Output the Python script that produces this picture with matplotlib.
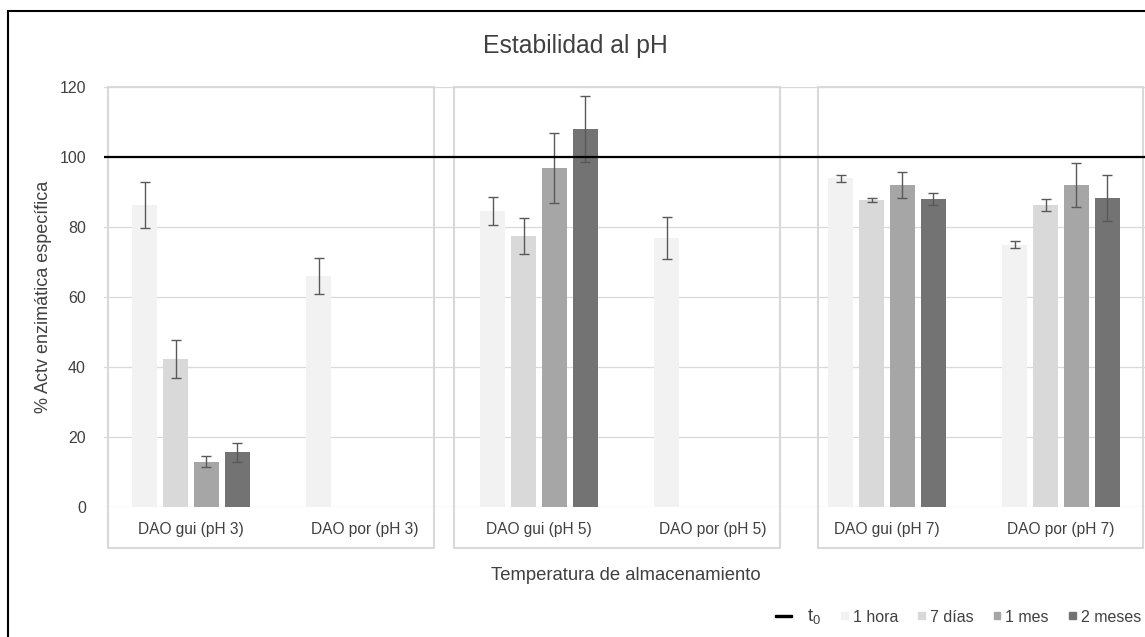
import numpy as np
import matplotlib
matplotlib.use("Agg")
import matplotlib.pyplot as plt
from matplotlib.patches import Rectangle, Patch
from matplotlib.legend_handler import HandlerPatch

plt.rcParams['font.family'] = ['Liberation Sans', 'DejaVu Sans']

# actividad residual (%) y desviación por muestra y tiempo de almacenamiento
muestras = ["DAO gui (pH 3)", "DAO por (pH 3)", "DAO gui (pH 5)",
            "DAO por (pH 5)", "DAO gui (pH 7)", "DAO por (pH 7)"]
tiempos = ["1 hora", "7 días", "1 mes", "2 meses"]
nan = np.nan
act_1h = [86.3, 66.0, 84.6, 77.0, 94.0, 75.0]
err_1h = [6.5, 5.1, 4.1, 6.0, 1.0, 1.0]
act_7d = [42.3, nan, 77.5, nan, 87.7, 86.3]
err_7d = [5.4, nan, 5.1, nan, 0.6, 1.6]
act_1m = [13.0, nan, 96.8, nan, 92.0, 92.0]
err_1m = [1.7, nan, 10.0, nan, 3.7, 6.2]
act_2m = [15.6, nan, 108.0, nan, 88.0, 88.4]
err_2m = [2.7, nan, 9.5, nan, 1.8, 6.6]
t0 = 100

actividad = [act_1h, act_7d, act_1m, act_2m]
errores = [err_1h, err_7d, err_1m, err_2m]
colores = ["#f2f2f2", "#d9d9d9", "#a6a6a6", "#737373"]

W, H = 1145, 637
fig = plt.figure(figsize=(W / 100, H / 100), dpi=100)
ax = fig.add_axes([104 / W, 130 / H, 1044 / W, 420 / H])

x = np.arange(len(muestras))
paso = 0.178
ancho = 0.144
for i, (vals, errs, c) in enumerate(zip(actividad, errores, colores)):
    vals = np.array(vals, dtype=float)
    errs = np.array(errs, dtype=float)
    ok = ~np.isnan(vals)
    xi = x[ok] + (i - 1.5) * paso
    ax.bar(xi, vals[ok], width=ancho, color=c, zorder=2)
    ax.errorbar(xi, vals[ok], yerr=errs[ok], fmt='none', ecolor='#595959',
                elinewidth=1, capsize=3.5, capthick=1, zorder=3)

ax.axhline(t0, color='black', lw=1.6, zorder=4)

# recuadros de cada pH
cajas = [(-0.477, 1.397), (1.511, 3.385), (3.603, 5.471)]
for x0, x1 in cajas:
    ax.add_patch(Rectangle((x0, -11.7), x1 - x0, 131.6, fill=False,
                           edgecolor='#d9d9d9', lw=1.5, clip_on=False, zorder=1))

ax.set_xlim(-0.5, 5.5)
ax.set_ylim(0, 120)
ax.set_yticks(np.arange(0, 121, 20))
ax.set_xticks(x)
ax.set_xticklabels(muestras, fontsize=11.2, color='#404040')
ax.tick_params(axis='x', length=0, pad=11)
ax.tick_params(axis='y', length=0, pad=13, labelsize=11.5, labelcolor='#404040')
for s in ax.spines.values():
    s.set_visible(False)
ax.grid(axis='y', color='#d9d9d9', lw=0.9, zorder=0)
ax.set_axisbelow(True)

ax.set_ylabel("% Actv enzimática específica", fontsize=13, color='#404040')
ax.yaxis.set_label_coords(-0.0575, 0.5)
ax.yaxis.label.set_va('center')
ax.set_xlabel("Temperatura de almacenamiento", fontsize=13.3, color='#404040')
ax.xaxis.set_label_coords(0.5, -0.162)
ax.xaxis.label.set_va('center')

fig.text(575.5 / W, 1 - 46 / H, "Estabilidad al pH", fontsize=17.8,
         color='#404040', ha='center', va='center')

# marco exterior
fig.patches.append(Rectangle((8 / W, -0.1), 1.2, 1.1 - 11 / H, fill=False,
                             edgecolor='black', lw=1.5, transform=fig.transFigure))


def cuadro(legend, orig_handle, xdescent, ydescent, width, height, fontsize):
    s = 5
    return Rectangle((width - s - xdescent, -ydescent + (height - s) / 2), s, s)


def raya(legend, orig_handle, xdescent, ydescent, width, height, fontsize):
    return Rectangle((-xdescent, -ydescent + height / 2 - 0.9), 12, 1.8)


h_t0 = Patch(color='black')
h_bar = [Patch(color=c) for c in colores]
hmap = {h_t0: HandlerPatch(patch_func=raya)}
for hb in h_bar:
    hmap[hb] = HandlerPatch(patch_func=cuadro)
leg = fig.legend([h_t0] + h_bar, [r"$\mathregular{t_0}$"] + tiempos,
                 handler_map=hmap, loc='center left',
                 bbox_to_anchor=(775 / W, 1 - 617 / H), ncol=5, frameon=False,
                 fontsize=11.5, handlelength=1.69, handletextpad=0.3,
                 columnspacing=0.0, borderpad=0, borderaxespad=0,
                 labelcolor='#404040')
leg.get_texts()[0].set_fontsize(13.5)

fig.savefig("out.png", dpi=100)
